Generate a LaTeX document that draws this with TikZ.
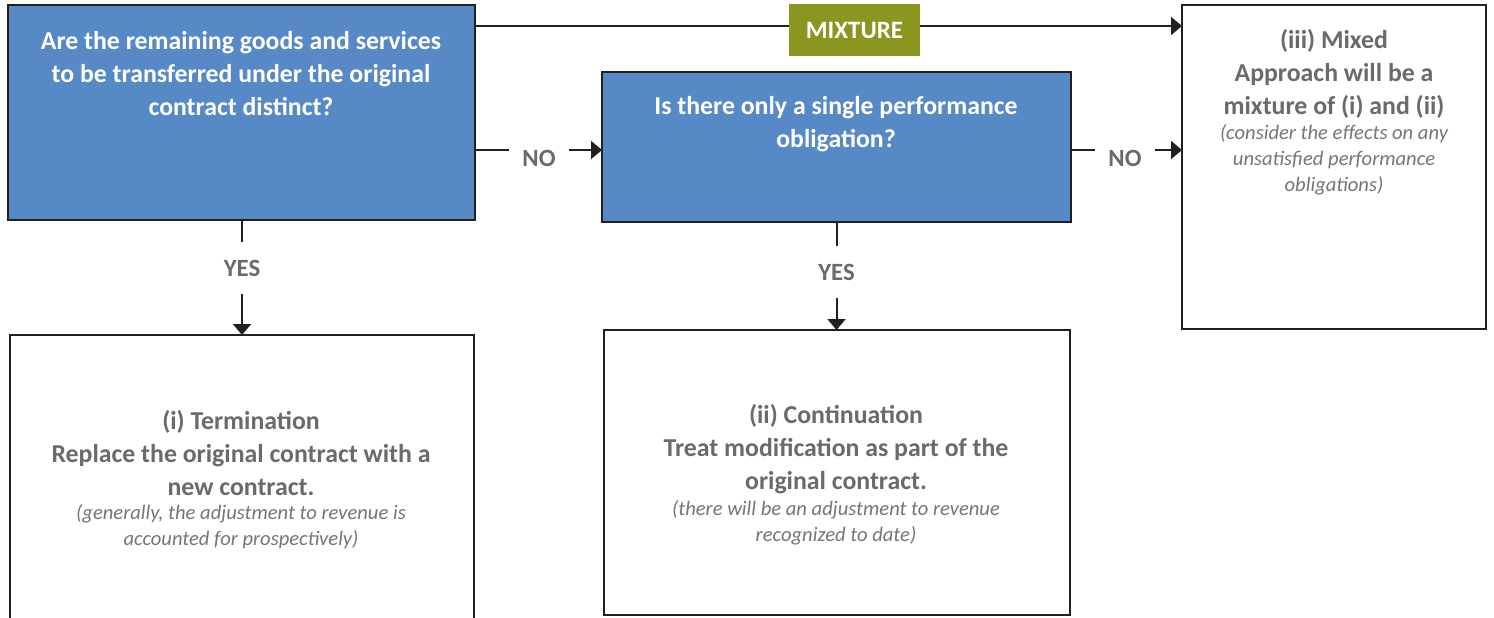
\documentclass[tikz,border=0pt]{standalone}
\usepackage{fontspec}
\setmainfont{Carlito}
\usetikzlibrary{arrows.meta}
\definecolor{qblue}{HTML}{5689C6}
\definecolor{linec}{HTML}{231F20}
\definecolor{mixgreen}{HTML}{8A961F}
\definecolor{greytxt}{HTML}{6A6A6A}
\definecolor{greyit}{HTML}{767676}
\tikzset{
  box/.style={draw=linec, line width=1pt, inner sep=0pt, outer sep=0pt},
  qbox/.style={box, fill=qblue},
  rbox/.style={box, fill=white},
  conn/.style={draw=linec, line width=1pt},
  arr/.style={conn, -{Triangle[length=5.5pt,width=9pt]}},
  lbl/.style={font=\bfseries\fontsize{12.4}{14}\selectfont, text=greytxt, inner xsep=6.5pt, inner ysep=8.5pt},
  qtext/.style={font=\bfseries\fontsize{12.9}{16.5}\selectfont, text=white, align=center, inner sep=0pt},
  rtext/.style={font=\bfseries\fontsize{12.9}{16.5}\selectfont, text=greytxt, align=center, inner sep=0pt},
  itext/.style={font=\itshape\fontsize{10.3}{13}\selectfont, text=greyit, align=center, inner sep=0pt},
  mix/.style={fill=mixgreen, text=white, font=\bfseries\fontsize{12.5}{14}\selectfont, minimum width=65.5pt, minimum height=26pt, inner sep=0pt}
}
\begin{document}
\begin{tikzpicture}[x=0.5pt,y=-0.5pt]
\useasboundingbox (0,0) rectangle (1494,617);
\clip (0,0) rectangle (1494,617);
\fill[white] (0,0) rectangle (1494,617);
% boxes
\node[qbox, minimum width=233.5pt, minimum height=107.5pt] (A) at (241.5,112.5) {};
\node[qbox, minimum width=234.5pt, minimum height=75pt] (B) at (836.5,147) {};
\node[rbox, minimum width=152pt, minimum height=162pt] (C) at (1334,167) {};
\node[rbox, minimum width=232pt, minimum height=160pt] (D) at (242,495) {};
\node[rbox, minimum width=233pt, minimum height=142.5pt] (E) at (837,472.5) {};
% texts
\node[qtext] (qA) at (241,73.5) {Are the remaining goods and services\\to be transferred under the original\\contract distinct?};
\node[qtext] (qB) at (836,124) {Is there only a single performance\\obligation?};
\node[rtext] (tC1) at (1334,73.5) {(iii) Mixed\\Approach will be a\\mixture of (i) and (ii)};
\node[itext] (tC2) at (1334,159.5) {(consider the effects on any\\unsatisfied performance\\obligations)};
\node[rtext] (tD1) at (241,453) {(i) Termination\\Replace the original contract with a\\new contract.};
\node[itext] (tD2) at (241,527) {(generally, the adjustment to revenue is\\accounted for prospectively)};
\node[rtext] (tE1) at (836,449) {(ii) Continuation\\Treat modification as part of the\\original contract.};
\node[itext] (tE2) at (836,523) {(there will be an adjustment to revenue\\recognized to date)};
% connectors
\coordinate (ytop) at (0,26);
\coordinate (ymid) at (0,150);
\draw[arr] (A.east |- ytop) -- (C.west |- ytop);
\node[mix] (mx) at (854.5,30) {MIXTURE};
\node[lbl] (no1) at (539,158) {NO};
\draw[conn] (A.east |- ymid) -- (no1.west |- ymid);
\draw[arr] (no1.east |- ymid) -- (B.west |- ymid);
\node[lbl] (no2) at (1125,158) {NO};
\draw[conn] (B.east |- ymid) -- (no2.west |- ymid);
\draw[arr] (no2.east |- ymid) -- (C.west |- ymid);
\node[lbl] (yes1) at (242,268) {YES};
\draw[conn] (A.south -| yes1) -- (yes1.north);
\draw[arr] (yes1.south) -- (D.north -| yes1);
\node[lbl] (yes2) at (836.5,272) {YES};
\draw[conn] (B.south) -- (yes2.north);
\draw[arr] (yes2.south) -- (E.north -| yes2);
\end{tikzpicture}
\end{document}
